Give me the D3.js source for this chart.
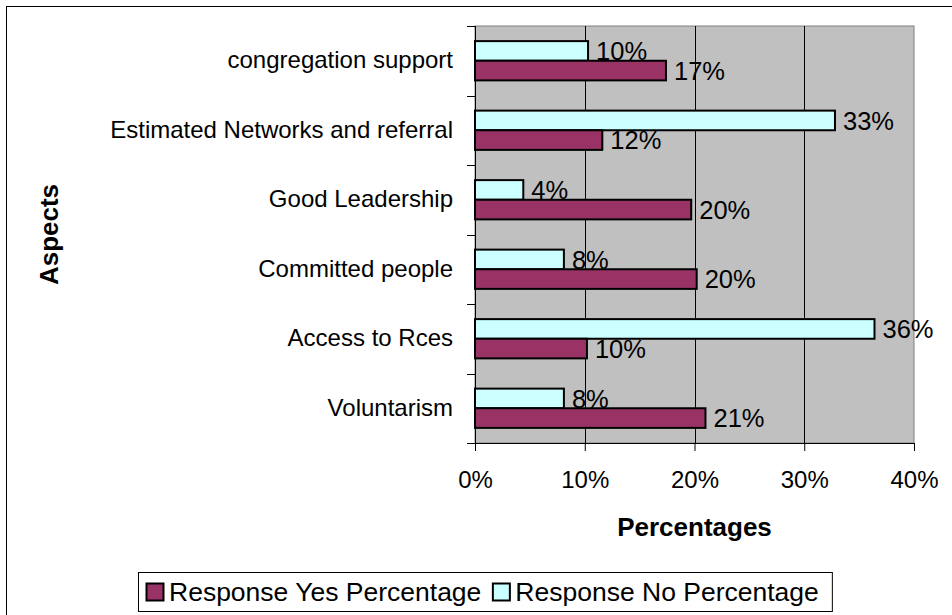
<!DOCTYPE html>
<html>
<head>
<meta charset="utf-8">
<script src="https://cdn.jsdelivr.net/npm/d3@7"></script>
<style>
  html, body { margin: 0; padding: 0; background: #fff; }
  svg { display: block; }
  text { font-family: "Liberation Sans", Arial, sans-serif; fill: #000; }
</style>
</head>
<body>
<svg id="chart" width="952" height="615"></svg>
<script>
// Aspects listed top to bottom
const categories = [
  "congregation support",
  "Estimated Networks and referral",
  "Good Leadership",
  "Committed people",
  "Access to Rces",
  "Voluntarism"
];
const yesValues = [0.174, 0.116, 0.197, 0.202, 0.102, 0.210];
const noValues  = [0.103, 0.328, 0.044, 0.081, 0.364, 0.081];
const seriesNames = ["Response Yes Percentage", "Response No Percentage"];
const xTicks = [0, 0.1, 0.2, 0.3, 0.4];

const COLORS = { yes: "#993366", no: "#CCFFFF" };
const FONT = 24;

const svg = d3.select("#chart");

// outer chart frame (runs past the right and bottom of the view)
svg.append("rect")
  .attr("x", 6.5).attr("y", 6.5)
  .attr("width", 958).attr("height", 640)
  .attr("fill", "#fff").attr("stroke", "#000").attr("stroke-width", 1);

const plot = { left: 475, right: 914, top: 26, bottom: 443 };

const x = d3.scaleLinear().domain([0, 0.4]).range([plot.left, plot.right]);
const y = d3.scaleBand().domain(categories).range([plot.top, plot.bottom]).padding(0);
const inner = d3.scaleBand().domain(["no", "yes"]).range([0, y.bandwidth()])
  .paddingInner(0).paddingOuter(0.77);

// plot background
svg.append("rect")
  .attr("x", plot.left).attr("y", plot.top)
  .attr("width", plot.right - plot.left).attr("height", plot.bottom - plot.top)
  .attr("fill", "#C0C0C0").attr("stroke", "#808080").attr("stroke-width", 1);

// vertical gridlines
svg.append("g").selectAll("line")
  .data(xTicks.filter(t => t > 0 && t < 0.4))
  .join("line")
  .attr("x1", d => Math.round(x(d)) + 0.5).attr("x2", d => Math.round(x(d)) + 0.5)
  .attr("y1", plot.top).attr("y2", plot.bottom)
  .attr("stroke", "#000").attr("stroke-width", 1);

// bars
const rows = categories.map((c, i) => ({ cat: c, yes: yesValues[i], no: noValues[i] }));
const groups = svg.append("g").selectAll("g")
  .data(rows).join("g")
  .attr("transform", d => `translate(0,${y(d.cat)})`);

const fmt = d3.format(".0%");

["no", "yes"].forEach(key => {
  groups.append("rect")
    .attr("x", x(0))
    .attr("y", inner(key))
    .attr("width", d => x(d[key]) - x(0))
    .attr("height", inner.bandwidth())
    .attr("fill", COLORS[key])
    .attr("stroke", "#000").attr("stroke-width", 2);

  groups.append("text")
    .attr("x", d => x(d[key]) + 8)
    .attr("y", inner(key) + inner.bandwidth() / 2)
    .attr("dy", "0.36em")
    .style("font-size", "25.5px")
    .text(d => fmt(d[key]));
});

// x axis
const xAxis = svg.append("g")
  .attr("transform", `translate(0,${plot.bottom})`)
  .call(d3.axisBottom(x).tickValues(xTicks).tickFormat(fmt).tickSize(8).tickPadding(20));
xAxis.select(".domain").attr("stroke", "#000").attr("d", `M${plot.left},0.5H${plot.right}`);
xAxis.selectAll(".tick line").attr("stroke", "#000");
xAxis.selectAll(".tick text").style("font-size", FONT + "px")
  .style("font-family", "'Liberation Sans', Arial, sans-serif").attr("fill", "#000");

// y axis: labels centred on each band, tick marks on band boundaries
const yAxis = svg.append("g")
  .attr("transform", `translate(${plot.left},0)`)
  .call(d3.axisLeft(y).tickSize(0).tickPadding(22));
yAxis.select(".domain").attr("stroke", "#000").attr("d", `M0.5,${plot.top}V${plot.bottom}`);
yAxis.selectAll(".tick text").style("font-size", FONT + "px")
  .style("font-family", "'Liberation Sans', Arial, sans-serif").attr("fill", "#000");

const bounds = categories.map(c => y(c)).concat([plot.bottom]);
svg.append("g").selectAll("line")
  .data(bounds).join("line")
  .attr("x1", plot.left - 8).attr("x2", plot.left)
  .attr("y1", d => Math.round(d) + 0.5).attr("y2", d => Math.round(d) + 0.5)
  .attr("stroke", "#000");

// axis titles
svg.append("text")
  .attr("x", (plot.left + plot.right) / 2).attr("y", 536)
  .attr("text-anchor", "middle")
  .style("font-size", "26px").style("font-weight", "bold")
  .text("Percentages");

svg.append("text")
  .attr("transform", `translate(58,${(plot.top + plot.bottom) / 2}) rotate(-90)`)
  .attr("text-anchor", "middle")
  .style("font-size", "26px").style("font-weight", "bold")
  .text("Aspects");

// legend
const legend = svg.append("g");
const legendItems = [
  { name: seriesNames[0], color: COLORS.yes },
  { name: seriesNames[1], color: COLORS.no }
];
const sw = 17, gapAfterSwatch = 6, gapBetween = 11, padL = 8, padR = 13;
let cursor = 0;
legendItems.forEach(it => {
  const g = legend.append("g");
  g.append("rect").attr("x", cursor + 0.5).attr("y", -sw / 2 + 0.5)
    .attr("width", sw).attr("height", sw)
    .attr("fill", it.color).attr("stroke", "#000").attr("stroke-width", 2);
  const t = g.append("text").attr("x", cursor + sw + gapAfterSwatch).attr("y", 0)
    .attr("dy", "0.36em").style("font-size", "26.5px").text(it.name);
  cursor += sw + gapAfterSwatch + t.node().getComputedTextLength() + gapBetween;
});
const legendW = cursor - gapBetween + padL + padR;
const legendH = 39;
const legendCx = 485, legendTop = 572;
const lx = Math.round(legendCx - legendW / 2);
legend.insert("rect", ":first-child")
  .attr("x", -padL + 0.5).attr("y", -legendH / 2 + 0.5)
  .attr("width", legendW).attr("height", legendH)
  .attr("fill", "#fff").attr("stroke", "#000").attr("stroke-width", 1);
legend.attr("transform", `translate(${lx + padL},${legendTop + legendH / 2})`);
</script>
</body>
</html>
